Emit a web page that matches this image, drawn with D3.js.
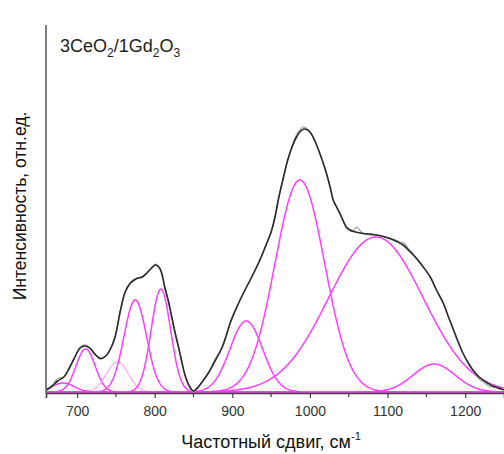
<!DOCTYPE html>
<html>
<head>
<meta charset="utf-8">
<script src="https://cdn.jsdelivr.net/npm/d3@7"></script>
<style>
  html, body { margin: 0; padding: 0; background: #fff; }
  svg { display: block; font-family: "Liberation Sans", Arial, sans-serif; }
</style>
</head>
<body>
<svg id="chart" width="504" height="454"></svg>
<script>
// Raman shift (cm^-1) and intensity (arb. units) of the fitted envelope
const fitShift = [660, 668, 675, 683, 690, 696, 704, 711, 717, 724, 730, 737, 743, 749, 756, 762, 769, 777, 784, 790,
  796, 801, 807, 813, 818, 822, 827, 831, 835, 839, 844, 850, 856, 863, 870, 876, 882, 887, 892, 897,
  903, 910, 917, 923, 930, 936, 944, 950, 955, 960, 966, 971, 977, 982, 987, 992, 997, 1001, 1007, 1013,
  1020, 1026, 1030, 1035, 1039, 1043, 1047, 1052, 1056, 1062, 1069, 1077, 1086, 1095, 1103, 1112, 1120, 1128, 1137, 1145,
  1155, 1163, 1172, 1178, 1185, 1191, 1197, 1204, 1210, 1218, 1227, 1235, 1243, 1250];
const fitIntensity = [2, 6, 11, 15, 24, 33, 44, 46, 43.5, 37, 33.5, 36, 43, 55, 82, 100, 109, 113.5, 115, 119,
  124, 127, 123, 105, 90, 75, 57, 44, 30, 17, 7, 1, 5, 12, 20, 28.5, 37, 45, 56, 68.5,
  80, 92, 103, 112, 123, 133, 148, 160, 175, 195, 215, 231, 245, 254, 260, 263, 262, 259, 250, 238,
  222, 205, 192, 184, 178, 171, 165, 162, 160.5, 159.5, 158.5, 158, 157, 155.5, 153.5, 150.5, 147, 141, 134, 126,
  115, 102, 88.5, 76, 62, 50, 39, 29, 22, 15, 10, 6, 4, 2];

// Measured spectrum
const dataShift = [660, 668, 673, 677, 683, 690, 696, 704, 711, 717, 724, 730, 737, 743, 749, 756, 762, 769, 777, 784,
  790, 796, 801, 807, 813, 818, 822, 827, 831, 835, 839, 844, 850, 856, 863, 870, 876, 880, 885, 892,
  897, 903, 910, 917, 923, 930, 936, 944, 950, 955, 960, 966, 971, 977, 982, 987, 991, 995, 1001, 1007,
  1013, 1020, 1026, 1030, 1035, 1039, 1043, 1047, 1052, 1056, 1060, 1064, 1069, 1077, 1086, 1095, 1103, 1110, 1116, 1121,
  1126, 1131, 1137, 1145, 1155, 1163, 1172, 1178, 1185, 1191, 1197, 1204, 1210, 1218, 1227, 1232, 1237, 1243, 1250];
const dataIntensity = [1, 6, 12, 14, 15, 23, 33, 45, 47, 43.5, 37, 33, 36, 43, 55, 82, 100, 110, 114, 115,
  119, 124, 128, 123, 104, 89, 75, 57, 44, 30, 17, 6, 0, 4, 12, 20, 30, 36, 41, 55,
  68, 80, 92, 103, 112, 122, 132, 148, 160, 175, 195, 215, 231, 246, 256, 262, 265, 264, 259, 250,
  238, 222, 205, 192, 184, 177, 170, 164, 161, 161, 165, 162, 158.5, 157, 157, 155, 154, 152, 150, 149,
  144, 140, 133, 126, 115, 102, 88, 76, 62, 50, 39, 29, 21, 13, 8, 5, 6, 3, 3];

// Deconvoluted Gaussian bands: centre (cm^-1), height, sigma (cm^-1)
const bandCentre = [682, 711, 752, 775, 808, 918, 987, 1085, 1160];
const bandHeight = [9, 43, 30, 92, 103, 71, 212, 155, 28];
const bandSigma  = [14, 12.3, 14, 14.5, 12.5, 21, 32, 61, 27];
const bandFaint  = [false, false, true, false, false, false, false, false, false];

const xTicks = [700, 800, 900, 1000, 1100, 1200];
const xMinorTicks = [750, 850, 950, 1050, 1150];

const svg = d3.select("#chart");
const plotLeft = 46, plotRight = 504, plotTop = 25, plotBottom = 393;

const x = d3.scaleLinear().domain([660, 1250]).range([plotLeft, plotRight]);
const y = d3.scaleLinear().domain([0, 367]).range([plotBottom - 1, plotTop]);

svg.append("defs").append("clipPath").attr("id", "plot")
  .append("rect").attr("x", plotLeft).attr("y", 0)
  .attr("width", plotRight - plotLeft).attr("height", plotBottom);

const g = svg.append("g").attr("clip-path", "url(#plot)");

// Gaussian band profiles sampled across the axis range
const grid = d3.range(660, 1250.5, 1);
const bandLine = d3.line().x(d => x(d[0])).y(d => y(d[1]));
bandCentre.forEach((c, i) => {
  const pts = grid.map(v => [v, bandHeight[i] * Math.exp(-((v - c) ** 2) / (2 * bandSigma[i] ** 2))]);
  g.append("path")
    .attr("d", bandLine(pts))
    .attr("fill", "none")
    .attr("stroke", bandFaint[i] ? "#ffa6ff" : "#ff3dff")
    .attr("stroke-width", bandFaint[i] ? 1.2 : 1.5);
});

const smooth = d3.line().curve(d3.curveCatmullRom.alpha(0.5));

// measured spectrum
g.append("path")
  .attr("d", smooth(dataShift.map((v, i) => [x(v), y(dataIntensity[i])])))
  .attr("fill", "none").attr("stroke", "#a0a0a0").attr("stroke-width", 1.2);

// fitted envelope
g.append("path")
  .attr("d", smooth(fitShift.map((v, i) => [x(v), y(fitIntensity[i])])))
  .attr("fill", "none").attr("stroke", "#2a2a2a").attr("stroke-width", 1.6);

// axes
svg.append("line").attr("x1", plotLeft).attr("x2", plotLeft).attr("y1", plotTop).attr("y2", plotBottom)
  .attr("stroke", "#707070").attr("stroke-width", 1.8);

const xAxis = svg.append("g").attr("transform", `translate(0,${plotBottom})`)
  .call(d3.axisBottom(x).tickValues(xTicks).tickFormat(d3.format("d")).tickSize(5).tickPadding(8));
xAxis.select(".domain").attr("stroke", "#404040").attr("stroke-width", 1.6);
xAxis.selectAll(".tick line").attr("stroke", "#404040").attr("stroke-width", 1.2);
xAxis.selectAll(".tick text").attr("fill", "#333").attr("font-size", 14)
  .attr("font-family", "Liberation Sans, Arial, sans-serif");

svg.append("g").selectAll("line").data(xMinorTicks).join("line")
  .attr("x1", d => x(d)).attr("x2", d => x(d)).attr("y1", plotBottom).attr("y2", plotBottom + 4)
  .attr("stroke", "#404040").attr("stroke-width", 1.2);

// axis titles
const xt = svg.append("text").attr("x", 271).attr("y", 448).attr("text-anchor", "middle")
  .attr("font-size", 18).attr("fill", "#111");
xt.append("tspan").text("Частотный сдвиг, см");
xt.append("tspan").attr("font-size", 11).attr("dy", -8).text("-1");

svg.append("text").attr("transform", "translate(26,206) rotate(-90)")
  .attr("text-anchor", "middle").attr("font-size", 17.5).attr("fill", "#111")
  .text("Интенсивность, отн.ед.");

// sample label
const lab = svg.append("text").attr("x", 60).attr("y", 52).attr("font-size", 18).attr("fill", "#222");
lab.append("tspan").text("3CeO");
lab.append("tspan").attr("font-size", 12).attr("dy", 5).text("2");
lab.append("tspan").attr("dy", -5).text("/1Gd");
lab.append("tspan").attr("font-size", 12).attr("dy", 5).text("2");
lab.append("tspan").attr("dy", -5).text("O");
lab.append("tspan").attr("font-size", 12).attr("dy", 5).text("3");
</script>
</body>
</html>
